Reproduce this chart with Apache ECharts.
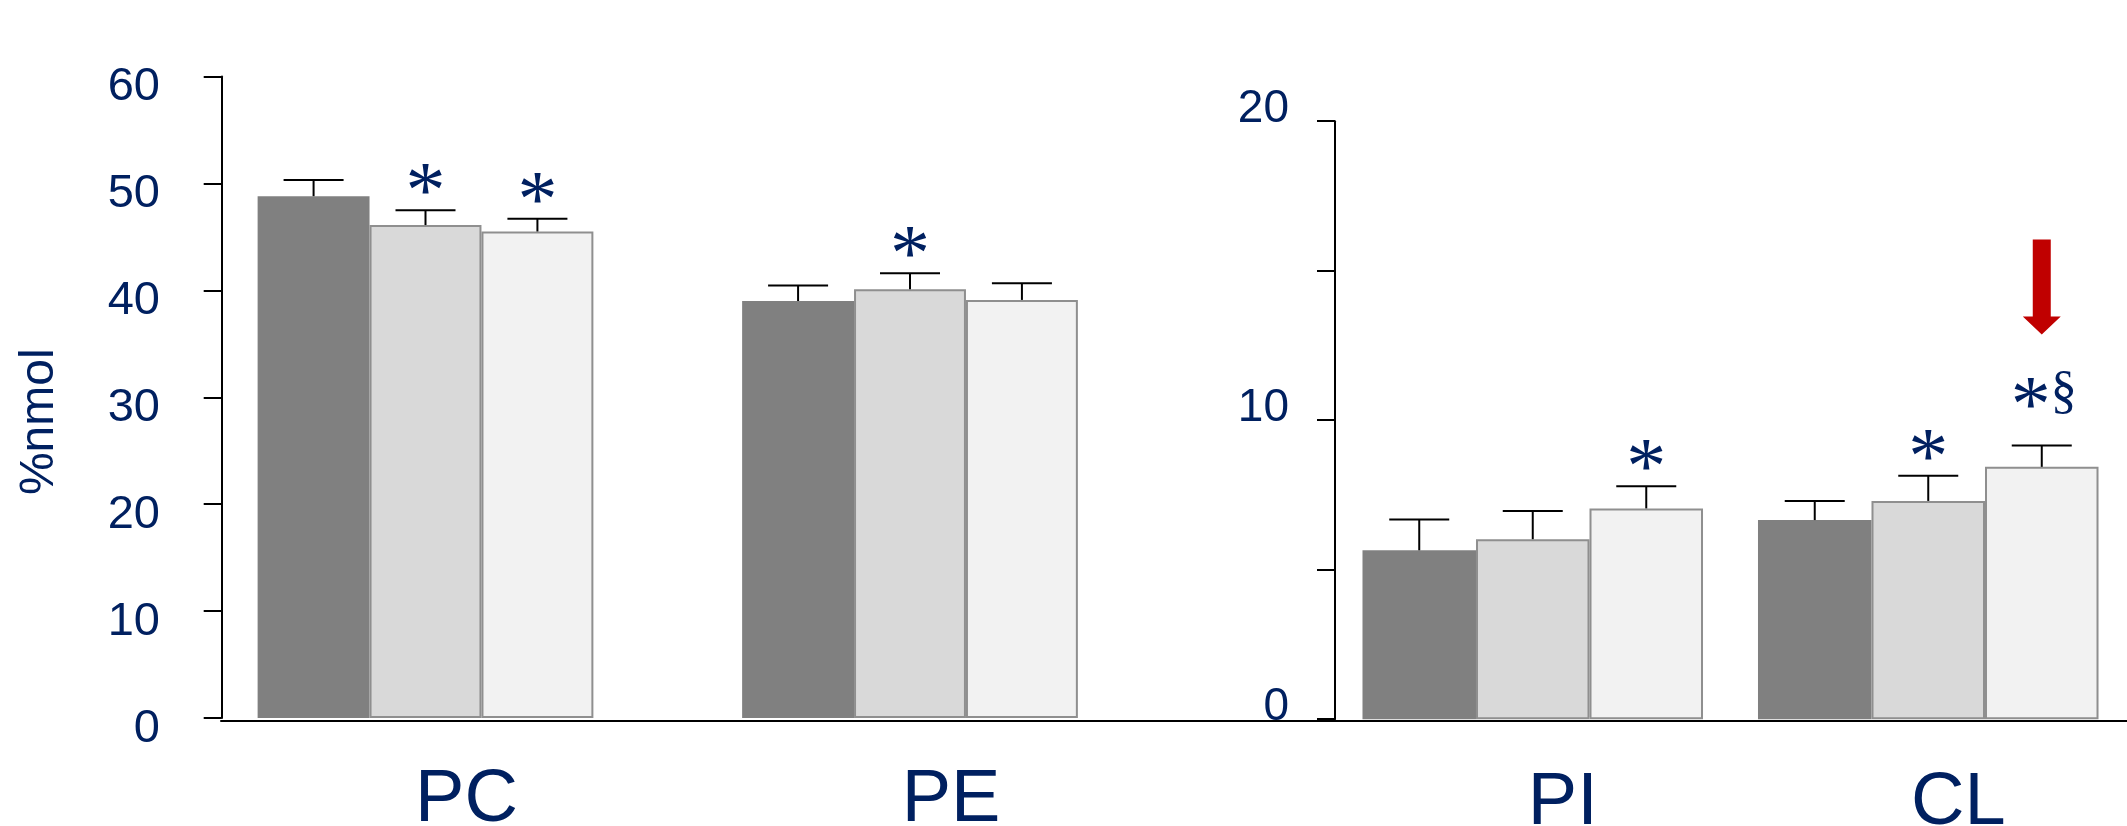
<!DOCTYPE html>
<html>
<head>
<meta charset="utf-8">
<script src="https://cdn.jsdelivr.net/npm/echarts@6/dist/echarts.min.js"></script>
<style>
  html, body { margin: 0; padding: 0; background: #fff; }
  #chart { width: 2127px; height: 826px; }
</style>
</head>
<body>
<div id="chart"></div>
<script>
// categories
const leftCats = ["PC", "PE"];
const rightCats = ["PI", "CL"];

// means of the three groups (dark, mid, light)
const leftG1 = [48.8, 39.0];
const leftG2 = [46.1, 40.1];
const leftG3 = [45.5, 39.1];
const rightG1 = [5.65, 6.66];
const rightG2 = [6.02, 7.3];
const rightG3 = [7.05, 8.44];

// upper error bars
const leftErr1 = [1.52, 1.44];
const leftErr2 = [1.38, 1.49];
const leftErr3 = [1.19, 1.57];
const rightErr1 = [1.03, 0.64];
const rightErr2 = [0.94, 0.84];
const rightErr3 = [0.74, 0.71];

// significance marks and the red arrow
const leftMark1 = ["", ""];
const leftMark2 = ["*", "*"];
const leftMark3 = ["*", ""];
const rightMark1 = ["", ""];
const rightMark2 = ["", "*"];
const rightMark3 = ["*", "*§"];
const rightArrow3 = [false, true];

// axis ticks
const leftTicks = [0, 10, 20, 30, 40, 50, 60];
const rightTicks = [0, 5, 10, 15, 20];
const rightTickLabels = ["0", "", "10", "", "20"];

const navy = "#002060";
const fills = ["#808080", "#d9d9d9", "#f2f2f2"];
const leftFrac = 0.231;
const rightFrac = 0.287;

const chart = echarts.init(document.getElementById("chart"));

function barSeries(data, g, idx, frac) {
  return {
    type: "bar",
    xAxisIndex: idx,
    yAxisIndex: idx,
    data: data,
    barWidth: frac * 100 + "%",
    barGap: "0%",
    silent: true,
    itemStyle: {
      color: fills[g],
      borderColor: g === 0 ? fills[0] : "#8f8f8f",
      borderWidth: g === 0 ? 0 : 2,
    },
  };
}

function errSeries(groups, idx, frac) {
  const items = [];
  groups.forEach((gr, g) => {
    gr.vals.forEach((v, c) => {
      items.push({ c: c, v: v, e: gr.err[c], g: g, mark: gr.mark[c], arrow: gr.arrow ? gr.arrow[c] : false });
    });
  });
  return {
    type: "custom",
    xAxisIndex: idx,
    yAxisIndex: idx,
    silent: true,
    clip: false,
    z: 5,
    data: items.map((d) => [d.c, d.v, d.e]),
    renderItem: function (params, api) {
      const it = items[params.dataIndex];
      const band = api.size([1, 0])[0];
      const bw = band * frac;
      const base = api.coord([it.c, it.v]);
      const x = base[0] + (it.g - 1) * bw;
      const top = api.coord([it.c, it.v + it.e])[1];
      const line = { stroke: "#000", lineWidth: 2 };
      const kids = [
        { type: "line", shape: { x1: x, y1: base[1], x2: x, y2: top }, style: line },
        { type: "line", shape: { x1: x - 30, y1: top, x2: x + 30, y2: top }, style: line },
      ];
      if (it.mark) {
        const two = it.mark.length > 1;
        const starFont = '80px "Liberation Serif"';
        kids.push({
          type: "text",
          style: {
            text: "*", x: two ? x - 11 : x, y: top - (two ? 53 : 31) + 17,
            align: "center", verticalAlign: "middle", font: starFont, fill: navy,
          },
        });
        if (two) {
          kids.push({
            type: "text",
            style: {
              text: it.mark.slice(1), x: x + 22, y: top - 53,
              align: "center", verticalAlign: "middle", font: '53px "Liberation Serif"', fill: navy,
            },
          });
        }
      }
      if (it.arrow) {
        const t = top - 111;
        kids.push({
          type: "polygon",
          shape: {
            points: [
              [x - 9, t - 95], [x + 9, t - 95], [x + 9, t - 18], [x + 19, t - 18],
              [x, t], [x - 19, t - 18], [x - 9, t - 18],
            ],
          },
          style: { fill: "#c00000" },
        });
      }
      return { type: "group", children: kids };
    },
  };
}

const tickStyle = { show: true, length: 18, lineStyle: { color: "#000", width: 2 } };
const lineStyle = { show: true, onZero: false, lineStyle: { color: "#000", width: 2 } };

chart.setOption({
  animation: false,
  textStyle: { fontFamily: "Liberation Sans" },
  grid: [
    { left: 183.25, top: 76.4, width: 969, height: 641.7, outerBoundsMode: "none" },
    { left: 1335, top: 121.2, width: 791, height: 598, outerBoundsMode: "none" },
    { left: 221, right: 0, top: 700, height: 21, outerBoundsMode: "none" },
  ],
  xAxis: [
    {
      gridIndex: 0, type: "category", data: leftCats,
      axisLine: { show: false }, axisTick: { show: false }, splitLine: { show: false },
      axisLabel: { margin: 45, fontSize: 74, color: navy, padding: [0, 0, 0, 82] },
    },
    {
      gridIndex: 1, type: "category", data: rightCats,
      axisLine: { show: false }, axisTick: { show: false }, splitLine: { show: false },
      axisLabel: { margin: 47, fontSize: 74, color: navy, padding: [0, 0, 0, 60] },
    },
    {
      gridIndex: 2, type: "value", min: 0, max: 1,
      axisLine: lineStyle, axisTick: { show: false }, axisLabel: { show: false }, splitLine: { show: false },
    },
  ],
  yAxis: [
    {
      gridIndex: 0, type: "value",
      min: leftTicks[0], max: leftTicks[leftTicks.length - 1], interval: leftTicks[1] - leftTicks[0],
      offset: -38.45,
      axisLine: lineStyle, axisTick: tickStyle, splitLine: { show: false },
      axisLabel: { margin: 61.7, fontSize: 47, color: navy, verticalAlign: "top", lineHeight: 22 },
      name: "%nmol", nameLocation: "middle", nameGap: 157.6, nameMoveOverlap: false,
      nameTextStyle: { fontSize: 48, color: navy, padding: [0, 49, 0, 0] },
    },
    {
      gridIndex: 1, type: "value",
      min: rightTicks[0], max: rightTicks[rightTicks.length - 1], interval: rightTicks[1] - rightTicks[0],
      axisLine: lineStyle, axisTick: tickStyle, splitLine: { show: false },
      axisLabel: {
        margin: 46, fontSize: 46, color: navy, verticalAlign: "bottom", lineHeight: 24,
        formatter: (v) => rightTickLabels[rightTicks.indexOf(v)] || "",
      },
    },
    { gridIndex: 2, show: false, min: 0, max: 1 },
  ],
  series: [
    barSeries(leftG1, 0, 0, leftFrac),
    barSeries(leftG2, 1, 0, leftFrac),
    barSeries(leftG3, 2, 0, leftFrac),
    barSeries(rightG1, 0, 1, rightFrac),
    barSeries(rightG2, 1, 1, rightFrac),
    barSeries(rightG3, 2, 1, rightFrac),
    errSeries([
      { vals: leftG1, err: leftErr1, mark: leftMark1 },
      { vals: leftG2, err: leftErr2, mark: leftMark2 },
      { vals: leftG3, err: leftErr3, mark: leftMark3 },
    ], 0, leftFrac),
    errSeries([
      { vals: rightG1, err: rightErr1, mark: rightMark1 },
      { vals: rightG2, err: rightErr2, mark: rightMark2 },
      { vals: rightG3, err: rightErr3, mark: rightMark3, arrow: rightArrow3 },
    ], 1, rightFrac),
  ],
});
</script>
</body>
</html>
